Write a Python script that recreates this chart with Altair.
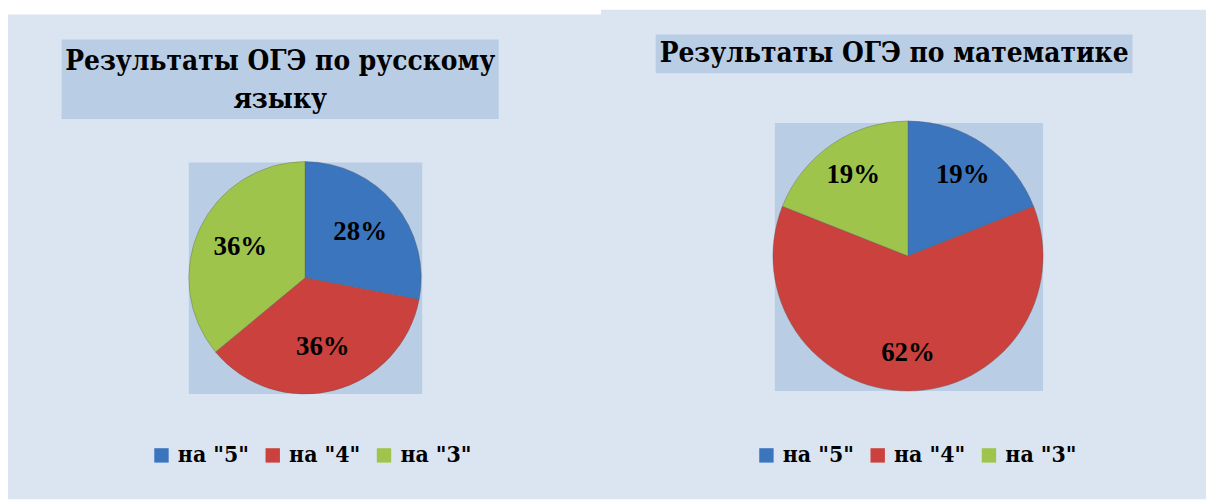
import altair as alt
import pandas as pd

CATEGORIES = ['на "5"', 'на "4"', 'на "3"']
RUS_VALUES = [28, 36, 36]
MATH_VALUES = [19, 62, 19]
COLORS = ["#3a75be", "#cb413d", "#9fc44c"]
TITLE_RUS = ["Результаты ОГЭ по русскому", "языку"]
TITLE_MATH = "Результаты ОГЭ по математике"

TFONT = "DejaVu Serif Condensed"
LFONT = "Liberation Serif"
BG = "#dbe5f1"
BOX = "#b9cde5"


def one():
    return alt.Data(values=[{"k": 1}])


def panel(values, title, pw, ph, bg_top, box, square, center, r, label_r,
          legend_x, legend_y, title_y, line_h):
    df = pd.DataFrame({
        "cat": CATEGORIES,
        "value": values,
        "idx": list(range(len(values))),
        "label": [f"{v}%" for v in values],
    })
    bg = alt.Chart(one()).mark_rect(color=BG).encode(
        x=alt.value(0), x2=alt.value(pw), y=alt.value(bg_top), y2=alt.value(ph))
    tbox = alt.Chart(one()).mark_rect(color=BOX).encode(
        x=alt.value(box[0]), x2=alt.value(box[1]), y=alt.value(box[2]), y2=alt.value(box[3]))
    ttext = alt.Chart(one()).mark_text(
        font=TFONT, fontSize=28, fontWeight="bold", color="black",
        baseline="middle", align="center", lineHeight=line_h).encode(
        x=alt.value((box[0] + box[1]) / 2), y=alt.value(title_y), text=alt.value(title))
    sq = alt.Chart(one()).mark_rect(color=BOX).encode(
        x=alt.value(square[0]), x2=alt.value(square[1]), y=alt.value(square[2]), y2=alt.value(square[3]))
    color = alt.Color("cat:N", scale=alt.Scale(domain=CATEGORIES, range=COLORS),
                      legend=alt.Legend(
                          title=None, orient="none", legendX=legend_x, legendY=legend_y,
                          direction="horizontal", symbolType="square", symbolSize=210,
                          symbolStrokeWidth=0, labelFont=TFONT, labelFontSize=23,
                          labelFontWeight="bold", labelColor="black", labelOffset=5,
                          columnPadding=12, labelLimit=200))
    base = alt.Chart(df).encode(
        theta=alt.Theta("value:Q", stack=True),
        order=alt.Order("idx:Q"),
    )
    arc = base.mark_arc(outerRadius=r, stroke="#5a5a5a", strokeOpacity=0.35, strokeWidth=1).encode(
        color=color, x=alt.value(center[0]), y=alt.value(center[1]))
    lbl = base.mark_text(radius=label_r, font=LFONT, fontSize=27, fontWeight="bold",
                         color="black").encode(
        text="label:N", x=alt.value(center[0]), y=alt.value(center[1]))
    return alt.layer(bg, tbox, ttext, sq, arc, lbl).properties(width=pw, height=ph)


left = panel(RUS_VALUES, TITLE_RUS, 597, 493, 5,
             (54, 494, 30, 110), (182, 417, 154, 387), (299, 270), 117, 72,
             143, 437, 53, 38)
right = panel(MATH_VALUES, TITLE_MATH, 609, 493, 0,
              (55, 535, 25, 64), (175, 445, 114, 384), (309, 248), 136, 98,
              155, 437, 45, 38)

chart = alt.hconcat(left, right, spacing=0).resolve_scale(color="independent").properties(
    padding=0, background="white"
).configure_view(stroke=None, fill=None).configure_concat(spacing=0)

chart.save("out.html", embed_options={"renderer": "svg", "actions": False})
